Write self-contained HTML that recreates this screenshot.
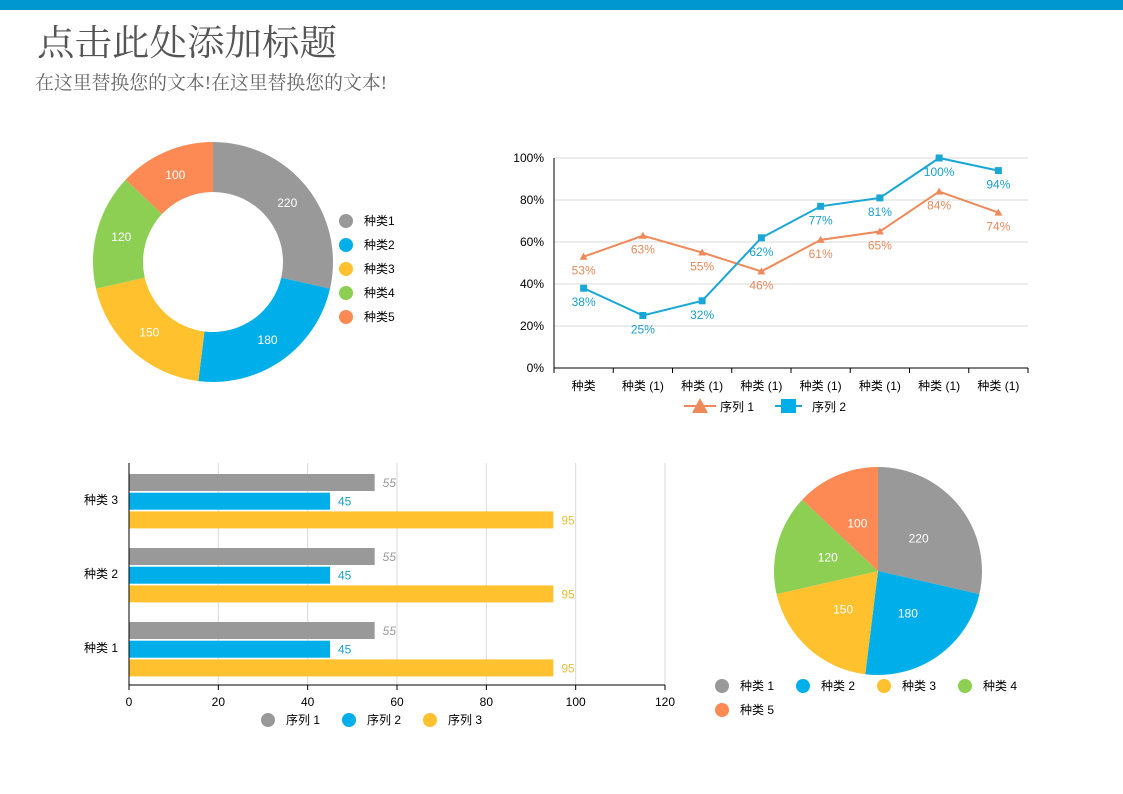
<!DOCTYPE html>
<html><head><meta charset="utf-8"><style>
html,body{margin:0;padding:0;background:#fff;width:1123px;height:794px;overflow:hidden}
svg{display:block;font-family:"Liberation Sans","Noto Sans CJK SC",sans-serif}
</style></head><body>
<svg id="s" width="1123" height="794" viewBox="0 0 1123 794">
<rect x="0" y="0" width="1123" height="10" fill="#0096d0"/>
<text x="37" y="55" font-size="36" fill="#555" textLength="300" lengthAdjust="spacingAndGlyphs" style="font-family:'Liberation Serif','Noto Serif CJK SC',serif">点击此处添加标题</text>
<text x="35" y="89" font-size="19" fill="#666" textLength="352" lengthAdjust="spacingAndGlyphs" style="font-family:'Liberation Serif','Noto Serif CJK SC',serif">在这里替换您的文本!在这里替换您的文本!</text>
<g id="donut"></g>
<g id="line"></g>
<g id="bar"></g>
<g id="pie"></g>
</svg>
<script>
const pieCats=["种类1","种类2","种类3","种类4","种类5"];
const pieVals=[220,180,150,120,100];
const pieColors=["#999999","#00aeea","#ffc12e","#8ccf53","#fd8a55"];
const lineCats=["种类","种类 (1)","种类 (1)","种类 (1)","种类 (1)","种类 (1)","种类 (1)","种类 (1)"];
const series1=[53,63,55,46,61,65,84,74];
const series2=[38,25,32,62,77,81,100,94];
const lineTicks=[0,20,40,60,80,100];
const barCats=["种类 1","种类 2","种类 3"];
const barS1=[55,55,55];
const barS2=[45,45,45];
const barS3=[95,95,95];
const barTicks=[0,20,40,60,80,100,120];
const NS="http://www.w3.org/2000/svg";
function el(p,t,a,txt){const e=document.createElementNS(NS,t);for(const k in a)e.setAttribute(k,a[k]);if(txt!==undefined)e.textContent=txt;p.appendChild(e);return e;}
function arcPath(cx,cy,r0,r1,a0,a1){const p=(r,a)=>[cx+r*Math.sin(a),cy-r*Math.cos(a)];const l=a1-a0>Math.PI?1:0;const [x1,y1]=p(r1,a0),[x2,y2]=p(r1,a1);
 if(r0===0)return `M${cx},${cy}L${x1},${y1}A${r1},${r1} 0 ${l} 1 ${x2},${y2}Z`;
 const [x3,y3]=p(r0,a1),[x4,y4]=p(r0,a0);return `M${x1},${y1}A${r1},${r1} 0 ${l} 1 ${x2},${y2}L${x3},${y3}A${r0},${r0} 0 ${l} 0 ${x4},${y4}Z`;}
function drawPie(g,cx,cy,r0,r1,lr){const tot=pieVals.reduce((a,b)=>a+b,0);let a=0;
 pieVals.forEach((v,i)=>{const a1=a+v/tot*2*Math.PI;
  const s=el(g,'path',{d:arcPath(cx,cy,r0,r1,a,a1),fill:pieColors[i]});
  
  
  const m=(a+a1)/2;const t=el(g,'text',{x:cx+lr*Math.sin(m),y:cy-lr*Math.cos(m)+4,'font-size':12,fill:'#fff','text-anchor':'middle'},v);
  
  
  a=a1;});}
// donut
const dg=document.getElementById('donut');
drawPie(dg,213,262,70,120,95);
pieCats.forEach((c,i)=>{const y=221+i*24;
 const ci=el(dg,'circle',{cx:346,cy:y,r:7,fill:pieColors[i]});
 
 
 const t=el(dg,'text',{x:364,y:y+4,'font-size':12,fill:'#000'},c);
 
 });
// line chart
const lg=document.getElementById('line');
const lx0=554,lx1=1028,ly0=368,ly1=158;const cw=(lx1-lx0)/lineCats.length;
const X=i=>lx0+cw*(i+0.5),Y=v=>ly0-(v/100)*(ly0-ly1);
lineTicks.forEach(t=>{const y=Y(t);if(t>0){const gl=el(lg,'line',{x1:lx0,x2:lx1,y1:y,y2:y,stroke:'#d9d9d9'});}
 const tt=el(lg,'text',{x:lx0-10,y:y+4,'font-size':12,'text-anchor':'end',fill:'#000'},t+'%');});
el(lg,'line',{x1:lx0,x2:lx0,y1:ly1,y2:ly0,stroke:'#000'});
el(lg,'line',{x1:lx0,x2:lx1,y1:ly0,y2:ly0,stroke:'#000'});
for(let i=0;i<=lineCats.length;i++)el(lg,'line',{x1:lx0+cw*i,x2:lx0+cw*i,y1:ly0,y2:ly0+5,stroke:'#000'});
lineCats.forEach((c,i)=>{const t=el(lg,'text',{x:X(i),y:390,'font-size':12,'text-anchor':'middle',fill:'#000'},c);});
function series(vals,col,lab,tri){const p=el(lg,'polyline',{points:vals.map((v,i)=>X(i)+','+Y(v)).join(' '),fill:'none',stroke:col,'stroke-width':2});
 
 
 vals.forEach((v,i)=>{const x=X(i),y=Y(v);
  const m=tri?el(lg,'path',{d:`M${x},${y-4}L${x+4},${y+3}L${x-4},${y+3}Z`,fill:col}):el(lg,'rect',{x:x-3.5,y:y-3.5,width:7,height:7,fill:col});
  
  
  const t=el(lg,'text',{x:x,y:y+18,'font-size':12,'text-anchor':'middle',fill:lab},v+'%');
  
  });}
series(series1,'#f0895a','#e48a5c',true);
series(series2,'#1aa7d6','#1a9fc8',false);
el(lg,'line',{x1:684,x2:716,y1:406,y2:406,stroke:'#f0895a','stroke-width':2});
el(lg,'path',{d:'M700,398L708,413L692,413Z',fill:'#f0895a'});
const l1=el(lg,'text',{x:720,y:411,'font-size':12},'序列 1');
el(lg,'line',{x1:775,x2:802,y1:406,y2:406,stroke:'#1aa7d6','stroke-width':2});
el(lg,'rect',{x:781,y:399,width:15,height:14,fill:'#00aeea'});
const l2=el(lg,'text',{x:812,y:411,'font-size':12},'序列 2');
// bar chart
const bg=document.getElementById('bar');
const bx0=129,bx1=665,by0=685,by1=463;const BX=v=>bx0+v/120*(bx1-bx0);
const band=(by0-by1)/barCats.length;
barTicks.forEach(t=>{const x=BX(t);if(t>0){const gl=el(bg,'line',{x1:x,x2:x,y1:by1,y2:by0,stroke:'#d9d9d9'});}
 el(bg,'line',{x1:x,x2:x,y1:by0,y2:by0+5,stroke:'#000'});
 const tt=el(bg,'text',{x:x,y:706,'font-size':12,'text-anchor':'middle'},t);});
const bcol=[["#999999","#999"],["#00aeea","#1a9fc8"],["#ffc12e","#e6c040"]];
barCats.forEach((c,ci)=>{const top=by0-band*(ci+1);
 const ct=el(bg,'text',{x:118,y:top+band/2+4,'font-size':12,'text-anchor':'end'},c);
 [barS1,barS2,barS3].forEach((s,si)=>{const y=top+11+si*18.7;
  const r=el(bg,'rect',{x:bx0,y:y,width:BX(s[ci])-bx0,height:17,fill:bcol[si][0]});
  
  
  const t=el(bg,'text',{x:BX(s[ci])+8,y:y+13,'font-size':12,fill:bcol[si][1],'font-style':si==0?'italic':'normal'},s[ci]);
  
  });});
el(bg,'line',{x1:bx0,x2:bx0,y1:by1,y2:by0,stroke:'#000'});
el(bg,'line',{x1:bx0,x2:bx1,y1:by0,y2:by0,stroke:'#000'});
["序列 1","序列 2","序列 3"].forEach((n,i)=>{const x=268+i*81;
 el(bg,'circle',{cx:x,cy:720,r:7,fill:bcol[i][0]});
 const t=el(bg,'text',{x:x+18,y:724,'font-size':12},n);});
// pie
const pg=document.getElementById('pie');
drawPie(pg,878,571,0,104,52);
["种类 1","种类 2","种类 3","种类 4","种类 5"].forEach((c,i)=>{const x=722+(i%4)*81,y=686+Math.floor(i/4)*24;
 el(pg,'circle',{cx:x,cy:y,r:7,fill:pieColors[i]});
 const t=el(pg,'text',{x:x+18,y:y+4,'font-size':12},c);});
</script>
</body></html>
